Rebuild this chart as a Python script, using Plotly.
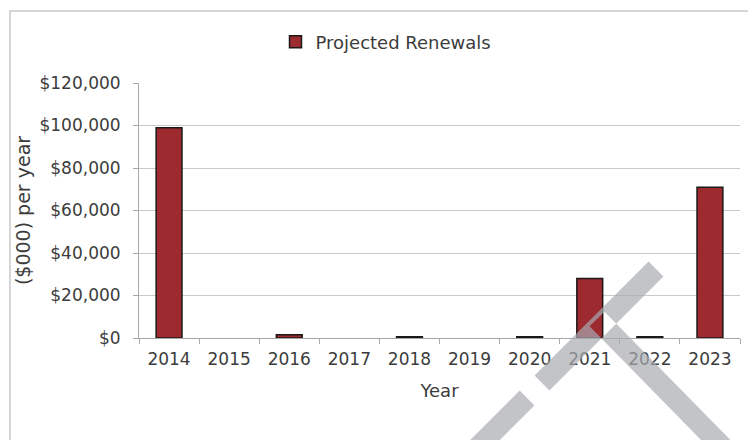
import plotly.graph_objects as go

# ---- data -------------------------------------------------------------
years = ["2014", "2015", "2016", "2017", "2018", "2019", "2020", "2021", "2022", "2023"]
renewals = [99000, 0, 1500, 0, 600, 0, 600, 28000, 600, 71000]
y_ticks = [0, 20000, 40000, 60000, 80000, 100000, 120000]
y_tick_text = [f"${v:,}" for v in y_ticks]

# ---- page geometry (pixels) -------------------------------------------
W, H = 748, 440
M_L, M_R, M_T, M_B = 139, 8, 83, 102
PW = W - M_L - M_R
PH = H - M_T - M_B


def px(x):
    """pixel column -> paper x"""
    return (x - M_L) / PW


def py(y):
    """pixel row -> paper y"""
    return (H - M_B - y) / PH


FONT = "DejaVu Sans, Liberation Sans, Arial, sans-serif"
TXT = "#3c3c3c"
AXIS = "#a8a8a8"
GRID = "#c9c9c9"

fig = go.Figure(
    go.Bar(
        x=years,
        y=renewals,
        name="Projected Renewals",
        width=0.43,
        marker=dict(
            color="#9c2a2f",
            # empty years get no outline so nothing is drawn for them
            line=dict(color="#1c1818", width=[1.5 if v else 0 for v in renewals]),
        ),
    )
)

# ---- outer chart frame -------------------------------------------------
shapes = [
    dict(
        type="rect", xref="paper", yref="paper",
        x0=px(10), x1=px(770), y0=py(11), y1=py(470),
        line=dict(color="#d6d6d6", width=2), fillcolor="rgba(0,0,0,0)",
        layer="below",
    )
]

# ---- grey stamp laid over the chart ------------------------------------
def band(p0, p1, half):
    """closed path for a straight stroke of given half width between two centre points"""
    (x0, y0), (x1, y1) = p0, p1
    dx, dy = x1 - x0, y1 - y0
    n = (dx * dx + dy * dy) ** 0.5
    nx, ny = -dy / n * half, dx / n * half
    pts = [(x0 + nx, y0 + ny), (x1 + nx, y1 + ny), (x1 - nx, y1 - ny), (x0 - nx, y0 - ny)]
    return "M " + " L ".join(f"{px(a):.5f},{py(b):.5f}" for a, b in pts) + " Z"


def slash_x(y):
    return 925 - y


half_w = 10.5
stamp_path = " ".join([
    band((slash_x(269), 269), (slash_x(383), 383), half_w),
    band((slash_x(398), 398), (slash_x(480), 480), half_w),
    band((597, 319), (755, 480), half_w),
])
shapes.append(
    dict(
        type="path", xref="paper", yref="paper", path=stamp_path,
        fillcolor="rgb(168,171,176)", opacity=0.7, line=dict(width=0),
        layer="above",
    )
)

fig.update_layout(
    width=W,
    height=H,
    margin=dict(l=M_L, r=M_R, t=M_T, b=M_B, autoexpand=False),
    paper_bgcolor="white",
    plot_bgcolor="white",
    font=dict(family=FONT, size=17, color=TXT),
    showlegend=True,
    legend=dict(
        orientation="h",
        x=px(386), xanchor="center",
        y=py(42), yanchor="middle",
        font=dict(family=FONT, size=18, color=TXT),
        bgcolor="rgba(0,0,0,0)",
        itemwidth=30,
    ),
    bargap=0.57,
    shapes=shapes,
)

fig.update_xaxes(
    type="category",
    tickson="boundaries",
    ticks="outside",
    ticklen=5,
    tickcolor=AXIS,
    showline=True,
    linecolor=AXIS,
    linewidth=1,
    showgrid=False,
    ticklabelstandoff=6,
    tickfont=dict(family=FONT, size=17, color=TXT),
    title=dict(text="Year", font=dict(family=FONT, size=18, color=TXT), standoff=15),
    automargin=False,
)

fig.update_yaxes(
    range=[0, 120000],
    tickmode="array",
    tickvals=y_ticks,
    ticktext=y_tick_text,
    ticks="outside",
    ticklen=5,
    tickcolor=AXIS,
    showline=True,
    linecolor=AXIS,
    linewidth=1,
    showgrid=True,
    gridcolor=GRID,
    gridwidth=1,
    zeroline=False,
    ticklabelstandoff=9,
    tickfont=dict(family=FONT, size=17, color=TXT),
    title=dict(text="($000) per year", font=dict(family=FONT, size=19, color=TXT), standoff=3),
    automargin=False,
)

fig.write_html("out.html")
